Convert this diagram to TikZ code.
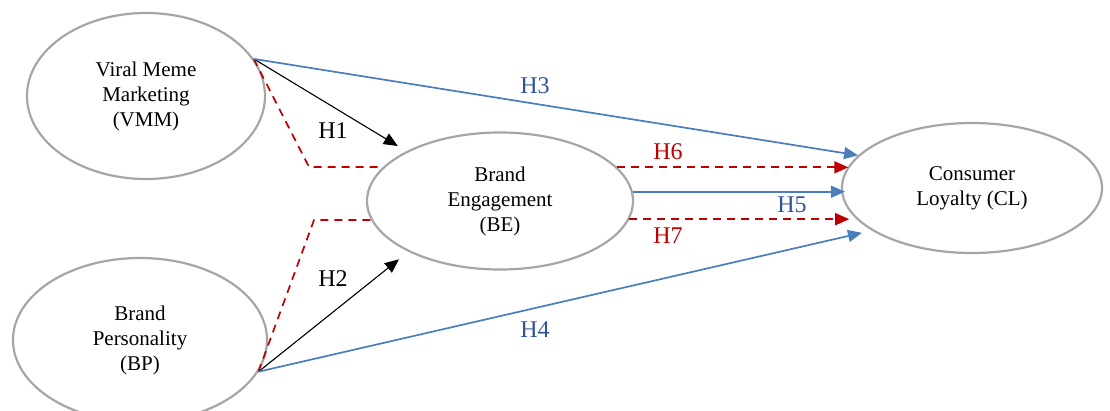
\documentclass[tikz,border=0pt]{standalone}
\usepackage{fontspec}
\setmainfont{Liberation Serif}
\usetikzlibrary{shapes.geometric,arrows.meta}
\definecolor{ellgray}{RGB}{166,166,166}
\definecolor{lineblue}{RGB}{74,126,187}
\definecolor{textblue}{RGB}{47,84,150}
\definecolor{darkred}{RGB}{192,0,0}
\tikzset{
	construct/.style={ellipse, draw=ellgray, line width=2.2pt, align=center, inner sep=0pt, font=\fontsize{21}{25}\selectfont},
	hyp/.style={font=\fontsize{24}{28}\selectfont},
	blackarr/.style={-{Triangle[length=14pt,width=12pt]}, line width=1.1pt},
	bluearr/.style={color=lineblue, -{Triangle[length=14pt,width=12pt]}, line width=1.7pt},
	redline/.style={color=darkred, line width=1.7pt, dash pattern=on 8pt off 6pt},
	redarr/.style={redline, -{Triangle[length=14pt,width=12pt]}}
}
\begin{document}
\begin{tikzpicture}[x=1pt, y=-1pt]
	\useasboundingbox (0,0) rectangle (1110,410);
	\node[construct, minimum width=238pt, minimum height=166pt] (VMM) at (146,96) {Viral Meme\\Marketing\\(VMM)};
	\node[construct, minimum width=254pt, minimum height=164pt] (BP) at (140,340) {Brand\\Personality\\(BP)};
	\node[construct, minimum width=266pt, minimum height=137pt] (BE) at (500,201) {Brand\\Engagement\\(BE)};
	\node[construct, minimum width=260pt, minimum height=130pt] (CL) at (972,188) {Consumer\\Loyalty (CL)};
	\coordinate (vmmbend) at (309,167);
	\coordinate (bpbend) at (314,220);
	% mediation paths
	\draw[redline] (VMM.19) -- (vmmbend) -- (vmmbend -| BE.164);
	\draw[redline] (BP.-15) -- (bpbend) -- (bpbend -| BE.188);
	% direct paths
	\draw[blackarr, shorten >=10pt] (VMM.19) -- (BE.152);
	\draw[blackarr, shorten >=12pt] (BP.-15) -- (BE.209);
	\draw[bluearr] (VMM.19) -- (CL.164);
	\draw[bluearr, shorten >=10pt] (BP.-15) -- (CL.203);
	\draw[redarr] (BE.16) -- (BE.16 -| CL.170);
	\draw[bluearr, shorten >=-4pt] (BE.4) -- (BE.4 -| CL.180);
	\draw[redarr, shorten >=7pt] (BE.-8) -- (BE.-8 -| CL.195);
	% labels
	\node[hyp] (h1) at (333,131) {H1};
	\node[hyp] (h2) at (333,279) {H2};
	\node[hyp, textblue] (h3) at (535,86) {H3};
	\node[hyp, textblue] (h4) at (535,330) {H4};
	\node[hyp, textblue] (h5) at (792,205) {H5};
	\node[hyp, darkred] (h6) at (668,152) {H6};
	\node[hyp, darkred] (h7) at (668,236) {H7};
\end{tikzpicture}
\end{document}
